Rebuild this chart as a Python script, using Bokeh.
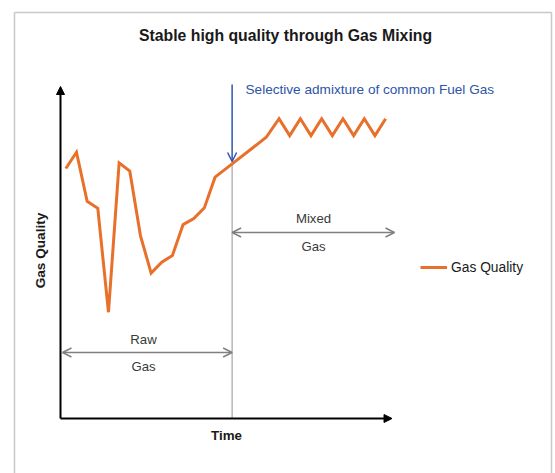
from bokeh.plotting import figure
from bokeh.models import Range1d, Arrow, OpenHead, NormalHead, Label, Legend, LegendItem
from bokeh.embed import file_html
from bokeh.resources import INLINE

# ---- data ----
time = [0.5, 1.5, 2.5, 3.5, 4.5, 5.5, 6.5, 7.5, 8.5, 9.5, 10.5, 11.5, 12.5, 13.5, 14.5,
        16.1, 19.3,
        20.5, 21.5, 22.5, 23.5, 24.5, 25.5, 26.5, 27.5, 28.5, 29.5, 30.5]
quality = [75.3, 80.2, 65.4, 63.3, 32.0, 77.0, 74.5, 55.1, 43.8, 47.1, 49.1, 58.4, 60.2, 63.5, 72.7,
           76.7, 84.7,
           90.3, 85.2, 90.3, 85.2, 90.3, 85.2, 90.3, 85.2, 90.3, 85.2, 90.3]
switch_time = 16.1
x_axis_end = 31.1
y_axis_end = 100.0

title_text = "Stable high quality through Gas Mixing"
note_text = "Selective admixture of common Fuel Gas"
series_name = "Gas Quality"
x_label = "Time"
y_label = "Gas Quality"

W, H = 555, 473
PX_PER_T = 10.66
PX_PER_Q = 3.32
# picture pixel -> data helpers
def X(px):
    return (px - 60) / PX_PER_T
def Y(py):
    return (418 - py) / PX_PER_Q

p = figure(width=W, height=H, output_backend="svg", toolbar_location=None,
           x_range=Range1d(X(0), X(W)), y_range=Range1d(Y(H), Y(0)),
           min_border=0, x_axis_type=None, y_axis_type=None)
p.grid.visible = False
p.outline_line_color = None
p.background_fill_color = "white"
p.border_fill_color = "white"

FONT = "Liberation Sans"

# outer chart border
for xs, ys, xe, ye in [(14, 12, 551, 12), (14, 12, 14, 490), (551, 12, 551, 490)]:
    p.add_layout(Arrow(end=None, x_start=X(xs), y_start=Y(ys), x_end=X(xe), y_end=Y(ye),
                       line_color="#c8c8c8", line_width=1.5))

# title
p.add_layout(Label(x=X(285), y=Y(35), text=title_text, text_font=FONT, text_font_size="15.8px",
                   text_font_style="bold", text_align="center", text_baseline="middle",
                   text_color="#1a1a1a"))

# divider line at switch time
p.segment(x0=[switch_time], y0=[0], x1=[switch_time], y1=[Y(160)], line_color="#a6a6a6", line_width=1.2)

# axes with arrow heads
p.add_layout(Arrow(end=NormalHead(size=8, fill_color="black", line_color="black"),
                   x_start=0, y_start=0, x_end=x_axis_end, y_end=0, line_color="black", line_width=2))
p.add_layout(Arrow(end=NormalHead(size=8, fill_color="black", line_color="black"),
                   x_start=0, y_start=0, x_end=0, y_end=y_axis_end, line_color="black", line_width=2))

# data line
r = p.line(time, quality, line_color="#E8702A", line_width=3, line_join="miter")

# blue annotation arrow
p.add_layout(Arrow(end=OpenHead(size=9, line_color="#2F56B0", line_width=1.5),
                   x_start=switch_time, y_start=Y(84), x_end=switch_time, y_end=Y(161),
                   line_color="#2F56B0", line_width=1.5))
p.add_layout(Label(x=X(245), y=Y(89), text=note_text, text_font=FONT, text_font_size="13.6px",
                   text_align="left", text_baseline="middle", text_color="#2E54A6"))

LBL = dict(text_font=FONT, text_font_size="13.2px", text_align="center",
           text_baseline="middle", text_color="#3a3a3a")

# mixed gas double arrow
p.add_layout(Arrow(start=OpenHead(size=9, line_color="#808080", line_width=1.5),
                   end=OpenHead(size=9, line_color="#808080", line_width=1.5),
                   x_start=switch_time, y_start=Y(232), x_end=X(394), y_end=Y(232),
                   line_color="#808080", line_width=1.5))
p.add_layout(Label(x=X(313), y=Y(218), text="Mixed", **LBL))
p.add_layout(Label(x=X(313), y=Y(246), text="Gas", **LBL))

# raw gas double arrow
p.add_layout(Arrow(start=OpenHead(size=9, line_color="#808080", line_width=1.5),
                   end=OpenHead(size=9, line_color="#808080", line_width=1.5),
                   x_start=X(62), y_start=Y(352), x_end=switch_time, y_end=Y(352),
                   line_color="#808080", line_width=1.5))
p.add_layout(Label(x=X(143), y=Y(339), text="Raw", **LBL))
p.add_layout(Label(x=X(143), y=Y(366), text="Gas", **LBL))

# axis labels
p.add_layout(Label(x=X(226), y=Y(435), text=x_label, text_font=FONT, text_font_size="13.4px",
                   text_font_style="bold", text_align="center", text_baseline="middle", text_color="#1a1a1a"))
p.add_layout(Label(x=X(40), y=Y(250), text=y_label, text_font=FONT, text_font_size="13.6px",
                   text_font_style="bold", text_align="center", text_baseline="middle", text_color="#1a1a1a",
                   angle=1.5708))

# legend (location in canvas pixels from bottom-left)
legend = Legend(items=[LegendItem(label=series_name, renderers=[r])], location=(420, 473 - 267 - 8),
                glyph_width=27, glyph_height=16, label_height=16, label_standoff=4,
                padding=0, margin=0, spacing=0, border_line_color=None, background_fill_alpha=0,
                label_text_font=FONT, label_text_font_size="13.8px", label_text_color="#1a1a1a")
p.add_layout(legend, "center")

open("out.html", "w").write(file_html(p, INLINE))
